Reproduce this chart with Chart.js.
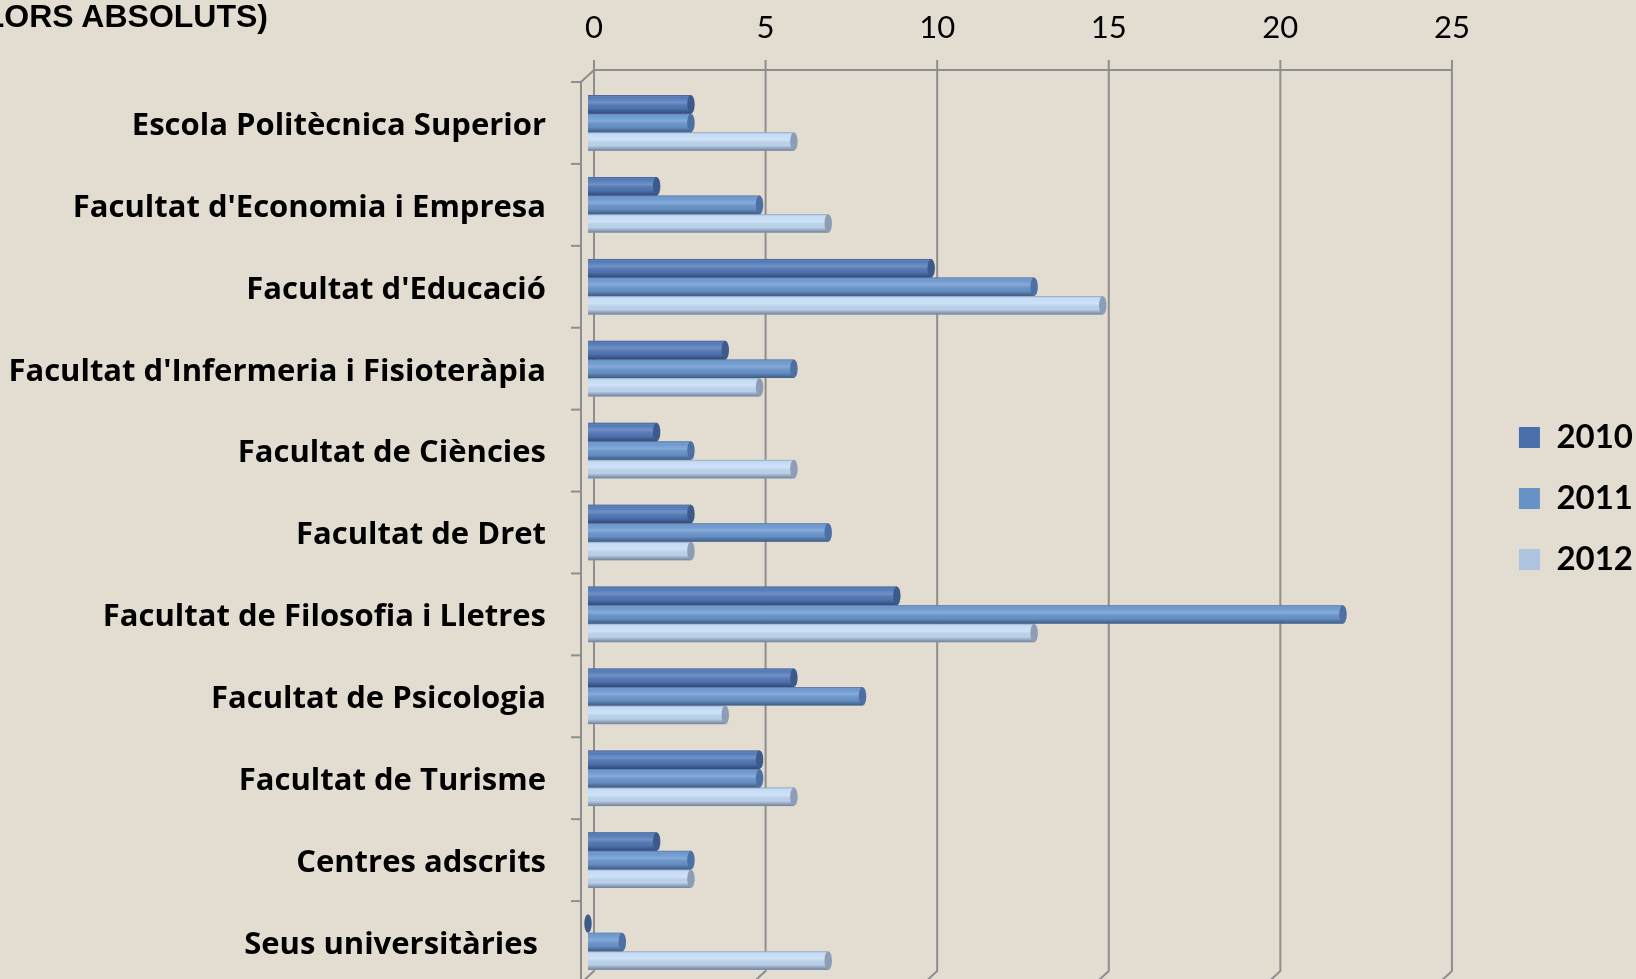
<!DOCTYPE html>
<html lang="ca">
<head>
<meta charset="utf-8">
<title>Valors absoluts per centre</title>
<script src="https://cdn.jsdelivr.net/npm/chart.js@4/dist/chart.umd.min.js"></script>
<style>
    html, body { margin: 0; padding: 0; background: #E3DCD0; overflow: hidden; }
    #wrap { position: relative; width: 1636px; height: 979px; overflow: hidden; background: #E3DCD0; }
    #grafic { position: absolute; left: 0; top: 0; }
    #titol {
        position: absolute; right: 1368px; top: 0;
        font: bold 32px 'Liberation Sans Narrow', 'Arial Narrow', 'Liberation Sans', sans-serif;
        line-height: 32px; white-space: nowrap; color: #000;
    }
</style>
</head>
<body>
<div id="wrap">
    <canvas id="grafic" width="1643" height="1000"></canvas>
    <div id="titol">(VALORS ABSOLUTS)</div>
</div>
<script>
// Dades del gràfic
const categories = [
    'Escola Politècnica Superior',
    "Facultat d'Economia i Empresa",
    "Facultat d'Educació",
    "Facultat d'Infermeria i Fisioteràpia",
    'Facultat de Ciències',
    'Facultat de Dret',
    'Facultat de Filosofia i Lletres',
    'Facultat de Psicologia',
    'Facultat de Turisme',
    'Centres adscrits',
    'Seus universitàries '
];
const seriesLabels = ['2010', '2011', '2012'];
const values2010 = [3, 2, 10, 4, 2, 3, 9, 6, 5, 2, 0];
const values2011 = [3, 5, 13, 6, 3, 7, 22, 8, 5, 3, 1];
const values2012 = [6, 7, 15, 5, 6, 3, 13, 4, 6, 3, 7];
const axisMin = 0;
const axisMax = 25;
const axisStep = 5;

// Colors
const barColors = ['#5279B9', '#6B98D0', '#C4DCF6'];
const capColors = ['#3C5A8C', '#4D6FA3', '#8C9DB5'];
const legendColors = ['#4A6FAB', '#6792C6', '#ADC4E0'];
const gridColor = '#8E8E8E';
const FONT = "Lato, 'Noto Sans', sans-serif";
const LABEL_FONT = "'Open Sans', 'Noto Sans', sans-serif";

// Décalage "3D" entre le plan avant et le mur du fond
const BACK_DX = 6;
const DEPTH_X = 13;
const DEPTH_Y = 12;

/**
 * Dessine le cadre 3D : mur du fond avec les lignes verticales, axe avant et graduations.
 */
const frame3d = {
    id: 'frame3d',
    beforeDatasetsDraw(chart) {
        const ctx = chart.ctx;
        const xs = chart.scales.x;
        const ys = chart.scales.y;
        const a = chart.chartArea;
        const backTop = a.top - DEPTH_Y;
        const backBottom = a.bottom - DEPTH_Y;

        ctx.save();
        ctx.strokeStyle = gridColor;
        ctx.lineWidth = 2;

        // lignes du mur du fond
        xs.ticks.forEach(t => {
            const px = xs.getPixelForValue(t.value) + BACK_DX;
            ctx.beginPath();
            ctx.moveTo(px, backTop - 10);
            ctx.lineTo(px, backBottom);
            ctx.lineTo(px - DEPTH_X, a.bottom);
            ctx.stroke();
        });

        // bord supérieur du mur
        const x0 = xs.getPixelForValue(axisMin) + BACK_DX;
        const x1 = xs.getPixelForValue(axisMax) + BACK_DX;
        ctx.beginPath();
        ctx.moveTo(x0, backTop);
        ctx.lineTo(x1, backTop);
        ctx.stroke();

        // axe avant + diagonale
        const front = x0 - DEPTH_X;
        ctx.beginPath();
        ctx.moveTo(x0, backTop);
        ctx.lineTo(front, a.top);
        ctx.lineTo(front, a.bottom);
        ctx.stroke();

        // graduations des catégories
        for (let i = 0; i <= categories.length; i++) {
            const yy = ys.getPixelForValue(i - 0.5);
            ctx.beginPath();
            ctx.moveTo(front - 10, yy);
            ctx.lineTo(front, yy);
            ctx.stroke();
        }
        ctx.restore();
    }
};

/**
 * Donne aux barres un aspect de cylindre (dégradé + bouchon elliptique).
 */
const cylinder = {
    id: 'cylinder',
    afterDatasetsDraw(chart) {
        const ctx = chart.ctx;
        chart.data.datasets.forEach((ds, di) => {
            const meta = chart.getDatasetMeta(di);
            meta.data.forEach(bar => {
                const { x, y, base, height } = bar.getProps(['x', 'y', 'base', 'height'], true);
                const top = y - height / 2;
                const bottom = y + height / 2;
                const g = ctx.createLinearGradient(0, top, 0, bottom);
                g.addColorStop(0, 'rgba(20, 30, 60, 0.35)');
                g.addColorStop(0.14, 'rgba(255, 255, 255, 0)');
                g.addColorStop(0.4, 'rgba(255, 255, 255, 0.18)');
                g.addColorStop(0.72, 'rgba(0, 0, 0, 0.05)');
                g.addColorStop(1, 'rgba(10, 20, 50, 0.45)');
                ctx.save();
                ctx.fillStyle = g;
                ctx.fillRect(base, top, x - base, height);
                ctx.beginPath();
                ctx.ellipse(x, y, height * 0.2, height / 2, 0, 0, Math.PI * 2);
                ctx.fillStyle = capColors[di];
                ctx.fill();
                ctx.restore();
            });
        });
    }
};

new Chart(document.getElementById('grafic'), {
    type: 'bar',
    data: {
        labels: categories,
        datasets: [
            { label: seriesLabels[0], data: values2010, backgroundColor: barColors[0] },
            { label: seriesLabels[1], data: values2011, backgroundColor: barColors[1] },
            { label: seriesLabels[2], data: values2012, backgroundColor: barColors[2] }
        ]
    },
    options: {
        indexAxis: 'y',
        responsive: false,
        animation: false,
        devicePixelRatio: 1,
        categoryPercentage: 0.68,
        barPercentage: 1.0,
        layout: { padding: { left: 0, right: 0, top: 14, bottom: 17 } },
        plugins: {
            tooltip: { enabled: false },
            legend: {
                position: 'right',
                align: 'center',
                labels: {
                    boxWidth: 21,
                    boxHeight: 21,
                    padding: 28,
                    color: '#000',
                    font: { family: FONT, size: 33, weight: 'bold' },
                    generateLabels(chart) {
                        return Chart.defaults.plugins.legend.labels.generateLabels(chart).map((l, i) => ({
                            ...l, fillStyle: legendColors[i], strokeStyle: legendColors[i], lineWidth: 0
                        }));
                    }
                }
            }
        },
        scales: {
            x: {
                type: 'linear',
                position: 'top',
                min: axisMin,
                max: axisMax,
                ticks: {
                    stepSize: axisStep,
                    color: '#000',
                    padding: 35,
                    labelOffset: BACK_DX,
                    font: { family: FONT, size: 31 }
                },
                grid: { display: false, drawTicks: false },
                border: { display: false },
                afterFit(scale) { scale.height = 68; }
            },
            y: {
                type: 'category',
                ticks: {
                    color: '#000',
                    padding: 42,
                    labelOffset: 3,
                    font: { family: LABEL_FONT, size: 31, weight: 'bold' }
                },
                grid: { display: false, drawTicks: false },
                border: { display: false },
                afterFit(scale) {
                    scale.width = 588;
                    scale.paddingTop = 0;
                    scale.paddingBottom = 0;
                }
            },
            // espace vide entre le graphique et la légende
            gap: {
                type: 'linear',
                axis: 'y',
                position: 'right',
                ticks: { display: false },
                grid: { display: false, drawTicks: false },
                border: { display: false },
                afterFit(scale) {
                    scale.width = 45;
                    scale.paddingTop = 0;
                    scale.paddingBottom = 0;
                }
            }
        }
    },
    plugins: [frame3d, cylinder]
});
</script>
</body>
</html>
